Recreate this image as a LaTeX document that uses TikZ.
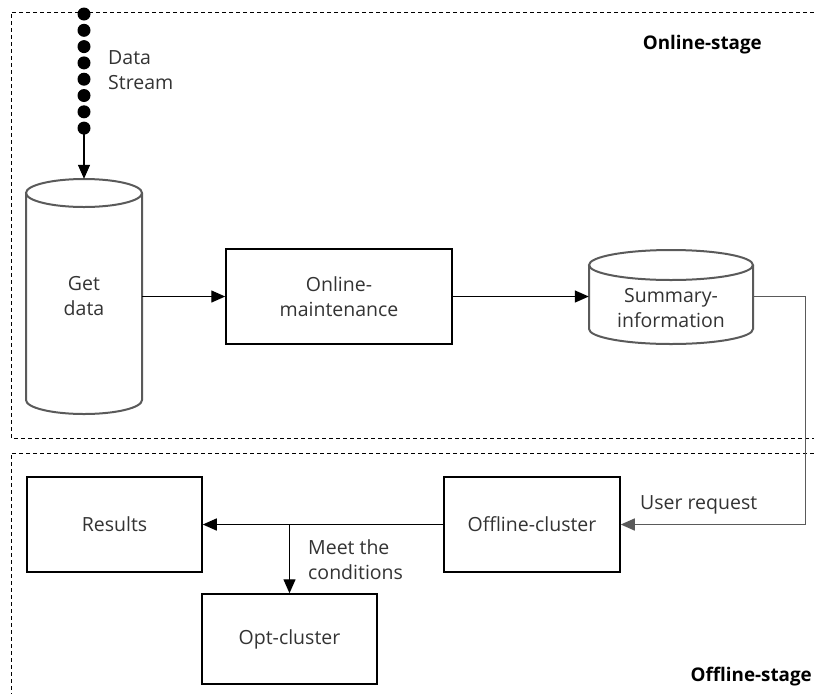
\documentclass[tikz,border=0pt]{standalone}
\usepackage{fontspec}
\setmainfont{Open Sans}
\usetikzlibrary{arrows.meta,calc}
\definecolor{txt}{HTML}{333333}
\definecolor{cylc}{HTML}{5A5A5A}
\tikzset{
  x=1pt,y=1pt,
  box/.style={draw=black,line width=1.5pt,minimum width=175pt,minimum height=95pt,inner sep=0pt,text=txt,align=center,font=\fontsize{19.5}{25}\selectfont},
  lab/.style={text=txt,align=left,inner sep=0pt,font=\fontsize{19.5}{25}\selectfont},
  stage/.style={font=\bfseries\fontsize{18.8}{22}\selectfont,inner sep=0pt},
  arr/.style={line width=1.4pt,-{Triangle[width=12pt,length=14pt]}},
  cyl/.style={draw=cylc,line width=2pt},
  frame/.style={line width=1pt,dash pattern=on 4pt off 3pt},
}
\begin{document}
\begin{tikzpicture}
\useasboundingbox (0,0) rectangle (814,-694);
% stage frames
\draw[frame] (814,-12) -- (11,-12) -- (11,-438) -- (814,-438);
\draw[frame] (814,-453) -- (11,-453) -- (11,-694);
\node[stage,anchor=east] (on) at (762,-45) {Online-stage};
\node[stage,anchor=east] (offst) at (812,-677) {Offline-stage};
% data stream dots
\foreach \k in {0,...,7} {\fill (84,-14-16.3*\k) circle (6.5);}
\coordinate (lastdot) at (84,-128);
\node[lab,anchor=west] (ds) at (108,-70) {Data\\Stream};
% Get data cylinder
\node[inner sep=0pt,minimum width=116pt,minimum height=235pt,text=txt,align=center,font=\fontsize{19.5}{25}\selectfont] (get) at (84,-296.5) {Get\\data};
\draw[cyl] (26,-193) -- (26,-400) arc[start angle=180,end angle=360,x radius=58,y radius=14] -- (142,-193);
\draw[cyl] (84,-193) ellipse[x radius=58,y radius=14];
\draw[arr] (lastdot) -- (get.north);
% Online-maintenance
\node[box,minimum width=226pt] (om) at (339,-296.5) {Online-\\maintenance};
\draw[arr] (get.east) -- (om.west);
% Summary-information cylinder
\node[inner sep=0pt,minimum width=164pt,minimum height=95pt] (sum) at (671,-296.5) {};
\draw[cyl] (589,-265) -- (589,-329) arc[start angle=180,end angle=360,x radius=82,y radius=15] -- (753,-265);
\draw[cyl] (671,-265) ellipse[x radius=82,y radius=15];
\node[lab,align=center] (sumt) at (671,-308) {Summary-\\information};
\draw[arr] (om.east) -- (sum.west);
% Offline part
\node[box,minimum width=176pt] (off) at (532,-524.5) {Offline-cluster};
\node[box] (res) at (114.5,-524.5) {Results};
\node[box,minimum height=90pt] (opt) at (289.5,-639) {Opt-cluster};
\draw[arr,draw=cylc] (sum.east) -| ([xshift=185pt]off.east) -- (off.east);
\node[lab,anchor=south west] (ur) at (640,-514) {User request};
\draw[arr] (off.west) -- (res.east);
\draw[arr] (opt.north |- res.east) -- (opt.north);
\node[lab,anchor=west] (mc) at (308,-560) {Meet the\\conditions};
\end{tikzpicture}
\end{document}
